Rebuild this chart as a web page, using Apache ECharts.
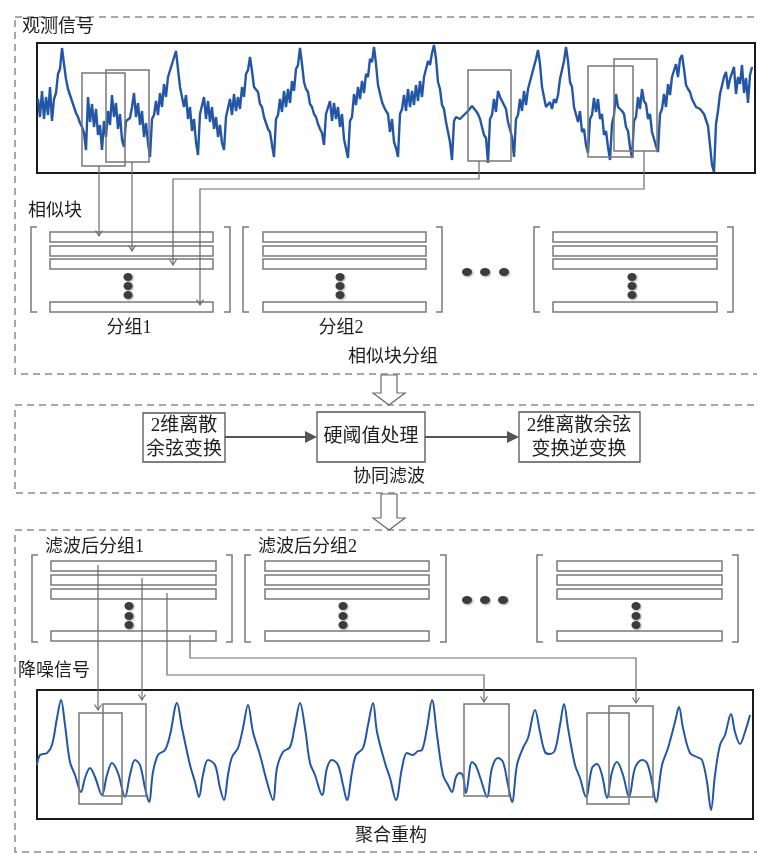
<!DOCTYPE html>
<html><head><meta charset="utf-8">
<script src="https://cdn.jsdelivr.net/npm/echarts@6/dist/echarts.min.js"></script>
<style>html,body{margin:0;padding:0;background:#fff}#c{width:757px;height:854px}</style>
</head><body><div id="c"></div>
<script>
// ---------------- data ----------------
// observed (noisy) signal amplitude, one sample every 2 time units starting at t = 1
const noisyStep = 2;
const noisyStart = 1;
const noisyValues = [
  74,56,82,54,76,58,86,52,
  74,80,99,104, 125,
  109,94,84,82,72,66,
  60,56,50,46,40, 23,
  76,51,69,46, 64,38,48, 23,
  52,36,62,48,78, 56,70,44,59,33, 26,
  52,54,55,66,80, 56,70,48,62,36,50, 30, 16,
  54,58,72,58,80, 66,89,76,96,94,109,108, 122,
  104,86,86,66,78,54, 66,42,54,31, 18,
  59,58,76,54,72,51,66,44,56, 36,48,30, 23,
  56,57,74,58,79,62,76, 64,86,76,99,103, 116,
  102,86,84,81,69,66, 56,54,44,41, 28, 16,
  54,58,74,61,82,66,84, 70,92,82,104,108, 125,
  109,91,84,81,69,66,59, 56,49,44,40, 28,
  59,58,72,52,70,54,66, 46,59,34,34, 15,
  52,56,79,68,86,74,92, 80,99,96,114,111, 126,
  109,88,89,71,66,62, 59,41,54,31, 25, 16,
  59,64,78,62,84,66,82,68, 88,72,92,76,96,94,112, 108,120, 128,
  114,91,84,68,64,51, 49,31, 13,
  52,56,56,54,52,58,59,62,64, 67,66,62,59,54,52, 38,35, 10,
  54,58,74,61,82, 76,72,68,64,51,52,36, 16,
  54,58,74,62,82,68, 84,84,99,101,114, 123,
  109,86,86,66,66, 71,64,74,70,78, 94,96,112, 126,
  112,91,86,66,66,51, 62,41,44,28, 20,
  54,58,75,61,74,54, 59,38,42,26, 13,
  49,58,79,66,64, 62,59,46,42,26, 15,
  52,56,76,64,84,72, 69,54,59,41,42,27, 21,
  59,64,79,66,89,78,96, 94,109,96,114, 118,
  104,88,84,81,74,74,66, 68,64,64,59,58, 47,28, 8, 1,
  49,62,79,81,96, 101,84,94,92,106,79,96,89, 108,80,95,70,98,106
];
// denoised signal
const denoisedTime = [
  0,3,10,15,20,24,28,33,38,44,
  48,53,58,65,70,75,81,88,93,98,
  103,108,112,116,121,128,133,140,145,153,
  158,162,166,171,178,183,187,191,195,201,
  206,211,216,223,230,236,240,246,253,258,
  263,268,273,278,285,290,295,301,306,310,
  315,319,326,331,336,340,348,353,359,365,
  370,376,381,385,390,395,400,406,411,415,
  419,423,426,429,435,439,444,450,455,461,
  466,471,475,480,486,491,498,503,508,513,
  518,523,527,531,538,543,549,555,560,565,
  570,575,580,586,592,598,605,610,615,619,
  625,631,638,642,646,653,660,665,670,674,
  678,683,688,694,698,703,708,713
];
const denoisedValues = [
  54,64,66,74,101,119,94,57,44,27,
  41,51,42,24,44,56,46,22,44,59,
  54,31,17,47,64,69,84,116,91,54,
  37,22,44,59,54,31,19,44,62,71,
  91,114,87,64,37,19,51,67,72,94,
  116,91,56,44,24,51,59,54,34,19,
  47,64,71,94,116,87,56,41,19,51,
  66,64,68,69,91,119,84,44,34,27,
  42,46,43,26,57,53,39,22,51,61,
  57,34,17,54,71,81,109,87,67,65,
  69,94,115,91,54,41,22,51,55,44,
  21,47,57,44,22,51,59,56,37,17,
  54,71,97,112,91,66,62,59,37,9,
  44,74,84,105,87,75,87,104
];
// texts
const sectionTitles = ['观测信号', '相似块', '降噪信号'];
const groupLabels = ['分组1', '分组2'];
const filteredGroupLabels = ['滤波后分组1', '滤波后分组2'];
const stageLabels = ['相似块分组', '协同滤波', '聚合重构'];
const processBoxes = [['2维离散', '余弦变换'], ['硬阈值处理'], ['2维离散余弦', '变换逆变换']];

// ---------------- drawing helpers ----------------
const G = [];
const FONT = '"Liberation Serif","Noto Sans CJK SC"';
const LINE = '#6a6a6a';
const BOX = '#7a7a7a';
function poly(points, stroke, w, z) {
  G.push({type:'polyline', z: z || 103, shape:{points}, style:{stroke: stroke || LINE, lineWidth: w || 1.2, fill: null}});
}
function rect(x, y, w, h, stroke, lw, fill, dash, z) {
  G.push({type:'rect', z: z || 100, shape:{x, y, width:w, height:h},
    style:{stroke: stroke || BOX, lineWidth: lw || 1.5, fill: fill || null, lineDash: dash || null}});
}
function text(x, y, t, align, size) {
  G.push({type:'text', z: 110, x, y, style:{text:t, font: (size || 18) + 'px ' + FONT, fill:'#1e1e1e',
    textAlign: align || 'left', textVerticalAlign:'middle', align: align || 'left', verticalAlign:'middle'}});
}
function arrowDown(x, y) {
  poly([[x - 3.5, y - 5.5], [x, y], [x + 3.5, y - 5.5]], LINE, 1.2, 105);
}
function dot(x, y, rx, ry) {
  G.push({type:'circle', z: 102, x, y, scaleX: 1, scaleY: ry / rx, shape:{cx:0, cy:0, r:rx},
    style:{fill:'#3c3c3c', shadowBlur:2, shadowColor:'rgba(0,0,0,0.35)', shadowOffsetX:1, shadowOffsetY:1}});
}
function bracketGroup(g, barYs, barH, top, bottom, dotYs) {
  poly([[g.lb + 6, top], [g.lb, top], [g.lb, bottom], [g.lb + 6, bottom]], BOX, 1.5, 101);
  poly([[g.rb - 6, top], [g.rb, top], [g.rb, bottom], [g.rb - 6, bottom]], BOX, 1.5, 101);
  barYs.forEach(y => rect(g.bx0, y, g.bx1 - g.bx0, barH, BOX, 1.5, '#fff', null, 101));
  dotYs.forEach(y => dot(g.dotx, y, 4.5, 4));
}
function hollowArrow(cx, y0, yHead, yTip) {
  G.push({type:'polygon', z: 100, shape:{points:[[cx - 8, y0], [cx + 8, y0], [cx + 8, yHead], [cx + 16, yHead], [cx, yTip], [cx - 16, yHead], [cx - 8, yHead]]},
    style:{fill:'#fff', stroke:'#6a6a6a', lineWidth:1.2}});
}

// ---------------- section frames ----------------
rect(15, 17, 800, 357, '#8c8c8c', 1.5, null, [7, 5], 90);
rect(15, 405, 800, 88, '#8c8c8c', 1.5, null, [7, 5], 90);
rect(15, 530, 800, 322, '#8c8c8c', 1.5, null, [7, 5], 90);
hollowArrow(389, 375, 393, 405);
hollowArrow(389, 494, 518, 530);

// ---------------- top section ----------------
text(22, 27, sectionTitles[0]);
[[82,73,43,93],[106,70,43,92],[468,70,43,91],[588,66,45,91],[614,59,43,92]].forEach(r => rect(r[0], r[1], r[2], r[3], '#777', 1.5));
text(28, 211, sectionTitles[1]);
const topGroups = [
  {lb:31, bx0:50, bx1:213, rb:230, dotx:128},
  {lb:243, bx0:263, bx1:426, rb:442, dotx:340},
  {lb:534, bx0:553, bx1:717, rb:733, dotx:632}
];
topGroups.forEach(g => bracketGroup(g, [232, 246, 259, 302], 10, 227, 312, [277, 286, 295]));
[467, 485, 504].forEach(x => dot(x, 272, 5, 4));
poly([[99,166],[99,236]]); arrowDown(99, 236);
poly([[132,162],[132,251]]); arrowDown(132, 251);
poly([[479,161],[479,179],[173,179],[173,265]]); arrowDown(173, 265);
poly([[644,151],[644,189],[200,189],[200,305]]); arrowDown(200, 305);
text(129, 328, groupLabels[0], 'center');
text(341, 328, groupLabels[1], 'center');
text(393, 357, stageLabels[0], 'center');

// ---------------- middle section ----------------
rect(143, 413, 82, 49, '#555', 1.3, '#fff');
rect(317, 412, 108, 50, '#555', 1.3, '#fff');
rect(519, 412, 121, 50, '#555', 1.3, '#fff');
poly([[225,437],[307,437]], '#555', 2);
G.push({type:'polygon', z:100, shape:{points:[[305,431],[317,437],[305,443]]}, style:{fill:'#555'}});
poly([[425,437],[509,437]], '#555', 2);
G.push({type:'polygon', z:100, shape:{points:[[507,431],[519,437],[507,443]]}, style:{fill:'#555'}});
text(184, 426, processBoxes[0][0], 'center', 19);
text(184, 450, processBoxes[0][1], 'center', 19);
text(371, 437, processBoxes[1][0], 'center', 19);
text(579, 426, processBoxes[2][0], 'center', 19);
text(579, 450, processBoxes[2][1], 'center', 19);
text(389, 477, stageLabels[1], 'center');

// ---------------- bottom section ----------------
text(45, 547, filteredGroupLabels[0]);
text(258, 547, filteredGroupLabels[1]);
const botGroups = [
  {lb:32, bx0:51, bx1:216, rb:232, dotx:129},
  {lb:245, bx0:265, bx1:429, rb:446, dotx:343},
  {lb:537, bx0:557, bx1:722, rb:738, dotx:636}
];
botGroups.forEach(g => bracketGroup(g, [561, 575, 589, 631], 10, 555, 642, [606, 616, 625]));
[467, 485, 503].forEach(x => dot(x, 600, 5, 4));
poly([[98,565],[98,710]]); arrowDown(98, 710);
poly([[142,578],[142,700]]); arrowDown(142, 700);
poly([[167,593],[167,675],[484,675],[484,702]]); arrowDown(484, 702);
poly([[190,635],[190,658],[636,658],[636,703]]); arrowDown(636, 703);
text(18, 671, sectionTitles[2]);
[[79,713,43,91],[103,704,43,92],[464,704,45,92],[587,713,42,91],[609,706,44,91]].forEach(r => rect(r[0], r[1], r[2], r[3], '#777', 1.5));
text(391, 836, stageLabels[2], 'center');

// ---------------- chart ----------------
const noisyData = noisyValues.map((v, i) => [noisyStart + i * noisyStep, v]);
const denoisedData = denoisedTime.map((t, i) => [t, denoisedValues[i]]);
const chart = echarts.init(document.getElementById('c'), null, {renderer:'canvas'});
chart.setOption({
  animation: false,
  backgroundColor: '#fff',
  grid: [
    {left:37, top:43, width:718, height:130, show:true, borderColor:'#1a1a1a', borderWidth:2, backgroundColor:'#fff'},
    {left:37, top:690, width:716, height:129, show:true, borderColor:'#1a1a1a', borderWidth:2, backgroundColor:'#fff'}
  ],
  xAxis: [
    {gridIndex:0, type:'value', min:0, max:718, show:false},
    {gridIndex:1, type:'value', min:0, max:716, show:false}
  ],
  yAxis: [
    {gridIndex:0, type:'value', min:0, max:130, show:false},
    {gridIndex:1, type:'value', min:0, max:129, show:false}
  ],
  series: [
    {type:'line', xAxisIndex:0, yAxisIndex:0, data:noisyData, showSymbol:false, lineStyle:{color:'#2456a6', width:2.4, join:'bevel'}},
    {type:'line', xAxisIndex:1, yAxisIndex:1, data:denoisedData, showSymbol:false, smooth:0.35, lineStyle:{color:'#2456a6', width:2}}
  ],
  graphic: G
});
</script></body></html>
